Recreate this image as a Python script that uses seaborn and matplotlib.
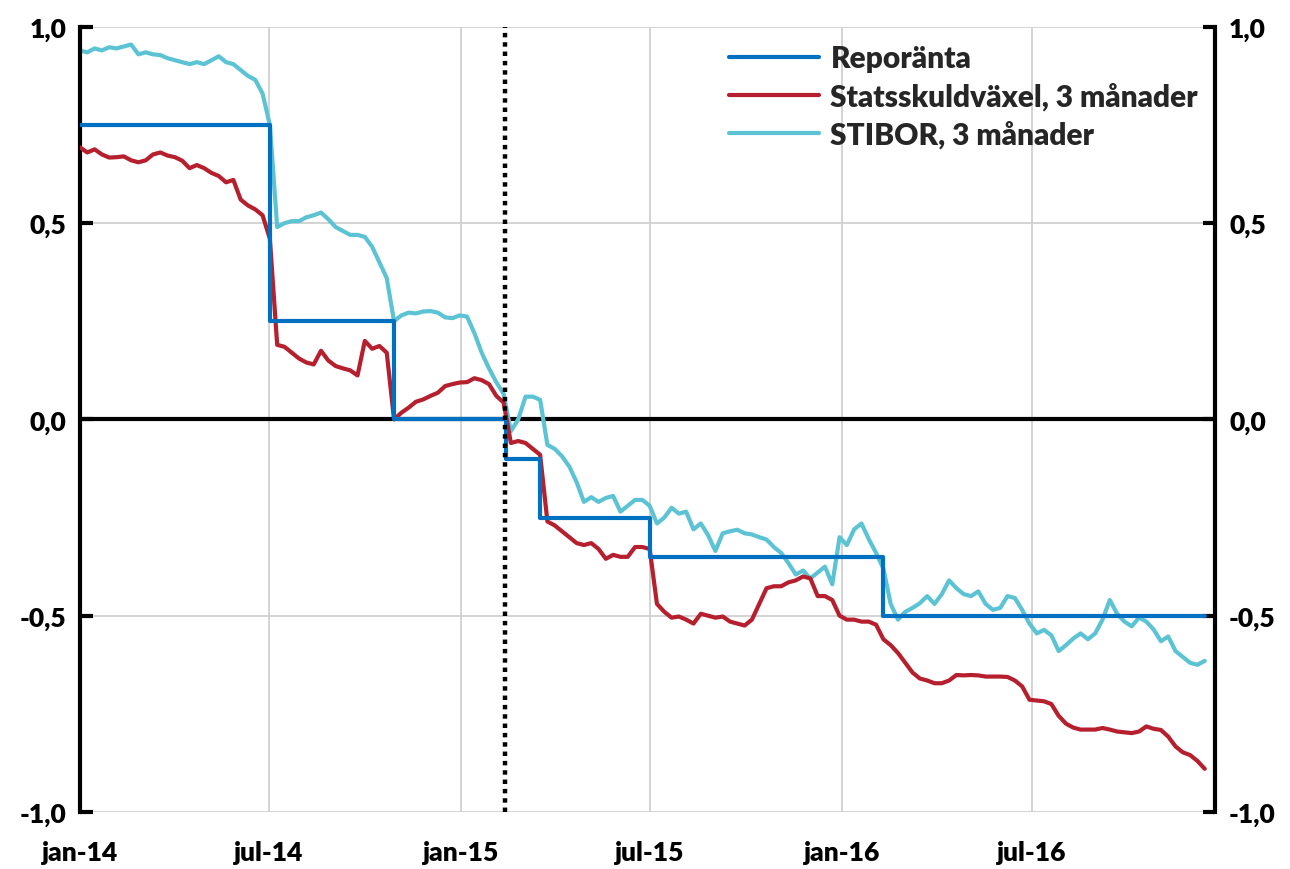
import pandas as pd
import numpy as np
import seaborn as sns
import matplotlib.pyplot as plt
from matplotlib.ticker import FuncFormatter

# veckodata, start 2014-01-01
start = "2014-01-01"

stibor = [0.94, 0.935, 0.945, 0.94, 0.948, 0.945, 0.95, 0.955, 0.93, 0.935,
          0.93, 0.928, 0.92, 0.915, 0.91, 0.905, 0.91, 0.905, 0.915, 0.925,
          0.91, 0.905, 0.89, 0.875, 0.865, 0.83, 0.75, 0.49, 0.50, 0.505,
          0.505, 0.515, 0.52, 0.527, 0.51, 0.49, 0.48, 0.47, 0.47, 0.465,
          0.44, 0.40, 0.36, 0.25, 0.265, 0.272, 0.27, 0.275, 0.276, 0.272,
          0.26, 0.258, 0.265, 0.262, 0.22, 0.17, 0.13, 0.095, 0.065, -0.03,
          0.0, 0.058, 0.058, 0.05, -0.065, -0.075, -0.094, -0.12, -0.16, -0.21,
          -0.198, -0.21, -0.2, -0.195, -0.235, -0.22, -0.205, -0.205, -0.22, -0.265,
          -0.25, -0.225, -0.24, -0.235, -0.28, -0.265, -0.295, -0.335, -0.29, -0.285,
          -0.281, -0.29, -0.293, -0.30, -0.306, -0.325, -0.34, -0.366, -0.395, -0.385,
          -0.405, -0.39, -0.375, -0.42, -0.30, -0.32, -0.28, -0.265, -0.305, -0.34,
          -0.38, -0.47, -0.51, -0.49, -0.48, -0.468, -0.45, -0.47, -0.445, -0.41,
          -0.43, -0.445, -0.45, -0.438, -0.47, -0.485, -0.48, -0.45, -0.455, -0.485,
          -0.52, -0.545, -0.536, -0.55, -0.59, -0.575, -0.558, -0.545, -0.56, -0.545,
          -0.51, -0.46, -0.495, -0.515, -0.527, -0.505, -0.515, -0.535, -0.565, -0.553,
          -0.59, -0.605, -0.62, -0.625, -0.615]

ssvx = [0.693, 0.68, 0.688, 0.675, 0.667, 0.668, 0.67, 0.66, 0.655, 0.66,
        0.675, 0.68, 0.672, 0.668, 0.659, 0.64, 0.648, 0.64, 0.628, 0.62,
        0.604, 0.61, 0.56, 0.545, 0.535, 0.52, 0.46, 0.19, 0.185, 0.17,
        0.155, 0.145, 0.14, 0.175, 0.15, 0.136, 0.13, 0.125, 0.112, 0.2,
        0.18, 0.187, 0.17, 0.0, 0.017, 0.03, 0.045, 0.051, 0.06, 0.068,
        0.085, 0.09, 0.094, 0.095, 0.105, 0.1, 0.09, 0.06, 0.043, -0.06,
        -0.055, -0.06, -0.075, -0.09, -0.26, -0.27, -0.285, -0.3, -0.315, -0.32,
        -0.315, -0.33, -0.355, -0.345, -0.35, -0.35, -0.325, -0.325, -0.33, -0.47,
        -0.49, -0.505, -0.502, -0.51, -0.52, -0.495, -0.5, -0.505, -0.502, -0.515,
        -0.52, -0.525, -0.51, -0.47, -0.43, -0.425, -0.425, -0.415, -0.41, -0.4,
        -0.405, -0.45, -0.45, -0.46, -0.5, -0.51, -0.51, -0.515, -0.515, -0.523,
        -0.56, -0.575, -0.595, -0.62, -0.645, -0.66, -0.665, -0.672, -0.672, -0.665,
        -0.651, -0.652, -0.651, -0.652, -0.655, -0.655, -0.655, -0.656, -0.665, -0.68,
        -0.714, -0.716, -0.718, -0.725, -0.755, -0.775, -0.785, -0.79, -0.79, -0.79,
        -0.786, -0.79, -0.795, -0.797, -0.799, -0.795, -0.782, -0.788, -0.791, -0.808,
        -0.833, -0.848, -0.855, -0.87, -0.89]

repo_dates = ["2014-01-01", "2014-07-02", "2014-10-29", "2015-02-13",
              "2015-03-18", "2015-07-01", "2016-02-10", "2016-12-14"]
repo = [0.75, 0.25, 0.0, -0.10, -0.25, -0.35, -0.50, -0.50]

labels = ["Reporänta", "Statsskuldväxel, 3 månader", "STIBOR, 3 månader"]
colors = ["#0070C0", "#B61F2D", "#5BC3D4"]
tick_dates = ["2014-01-01", "2014-07-01", "2015-01-01", "2015-07-01", "2016-01-01", "2016-07-01"]
tick_labels = ["jan-14", "jul-14", "jan-15", "jul-15", "jan-16", "jul-16"]
event_date = "2015-02-12"

weeks = pd.date_range(start, periods=len(stibor), freq="7D")

sns.set_theme(style="white")
plt.rcParams["font.family"] = ["Lato", "DejaVu Sans"]
W = "heavy"

fig = plt.figure(figsize=(12.9, 8.7), dpi=100)
ax = fig.add_axes([0.062, 0.0655, 0.880, 0.9025])

ax.axhline(0, color="black", lw=3, zorder=1)
ax.axvline(pd.Timestamp(event_date), color="black", lw=3.2, ls=(0, (1, 1.1)), zorder=5)

sns.lineplot(x=weeks, y=stibor, color=colors[2], lw=3, ax=ax, zorder=2)
sns.lineplot(x=weeks, y=ssvx, color=colors[1], lw=3, ax=ax, zorder=3)
sns.lineplot(x=pd.to_datetime(repo_dates), y=repo, color=colors[0], lw=3,
             drawstyle="steps-post", ax=ax, zorder=4)

ax.set_xlim(pd.Timestamp("2014-01-01"), pd.Timestamp("2016-12-24"))
ax.set_ylim(-1.0, 1.0)
ax.set_xticks(pd.to_datetime(tick_dates))
ax.set_xticklabels(tick_labels)
ax.set_yticks([-1.0, -0.5, 0.0, 0.5, 1.0])
ax.yaxis.set_major_formatter(FuncFormatter(lambda v, p: f"{v:.1f}".replace(".", ",")))

ax.grid(True, color="#D0D0D0", lw=1.3)
ax.set_axisbelow(True)
for s in ["top", "bottom"]:
    ax.spines[s].set_visible(False)
for s in ["left", "right"]:
    ax.spines[s].set_visible(True)
    ax.spines[s].set_color("black")
    ax.spines[s].set_linewidth(3)

ax.tick_params(axis="y", which="major", direction="in", length=9, width=3,
               left=True, right=True, labelleft=True, labelright=True,
               labelsize=19, pad=10, colors="black")
ax.tick_params(axis="x", length=0, labelsize=19, pad=20, colors="black")
for t in ax.get_xticklabels() + ax.get_yticklabels():
    t.set_fontweight(W)
ax.set_xlabel("")
ax.set_ylabel("")

line_map = {ln.get_color(): ln for ln in ax.get_lines()}
leg = ax.legend([line_map[c] for c in colors], labels, loc="upper left",
                bbox_to_anchor=(0.548, 1.012), frameon=False, fontsize=21.5,
                handlelength=3.0, handletextpad=0.4, labelspacing=0.33)
for ln in leg.get_lines():
    ln.set_linewidth(3)
for t in leg.get_texts():
    t.set_fontweight(W)

fig.savefig("out.png", dpi=100)
